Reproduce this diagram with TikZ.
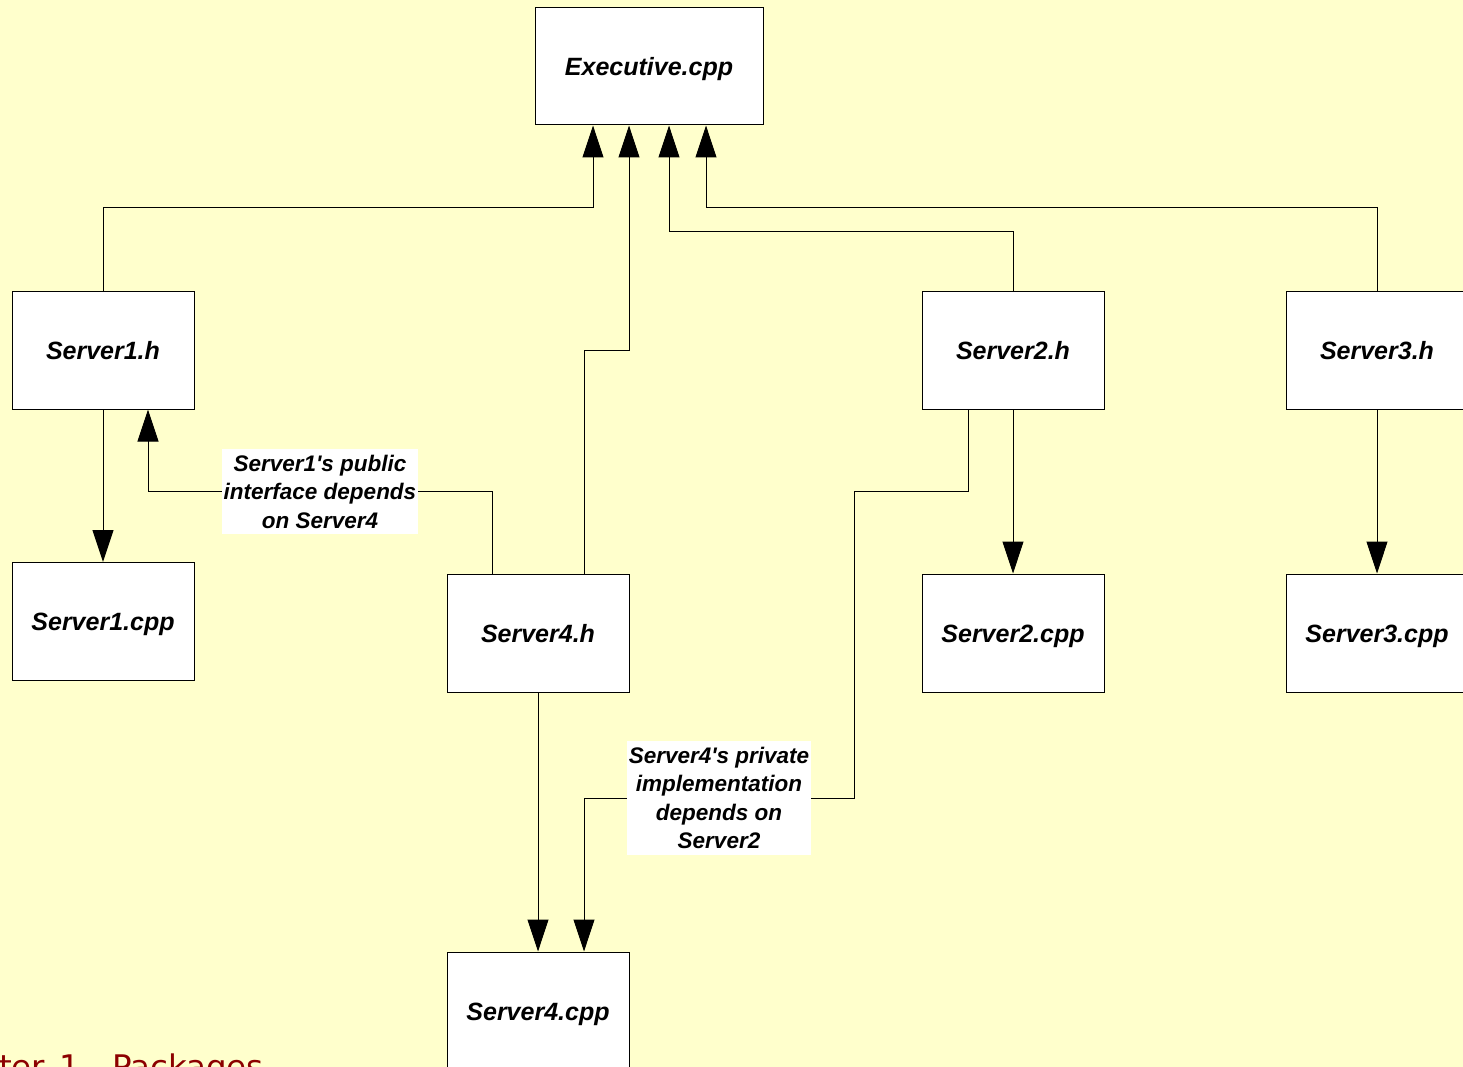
\documentclass[tikz,border=0pt]{standalone}
\usepackage{fontspec}
\setmainfont{Liberation Sans}[Ligatures=TeXOff]
\newfontfamily\titlefont{DejaVu Sans}
\usetikzlibrary{arrows.meta,calc}

\definecolor{paper}{HTML}{FFFFCC}
\definecolor{titlered}{RGB}{140,0,0}

\tikzset{
  filebox/.style={draw=black, line width=1pt, fill=white, minimum width=182pt,
    minimum height=118pt, inner sep=0pt, text height=18pt, text depth=0pt,
    font=\fontsize{25}{30}\selectfont\bfseries\itshape},
  arr/.style={line width=1pt, -{Triangle[length=32pt,width=21pt]}},
  note/.style={fill=white, inner sep=1.5pt, align=center,
    font=\fontsize{22.5}{28.5}\selectfont\bfseries\itshape},
  chaptertext/.style={text=titlered, inner sep=0pt, anchor=base west,
    font=\titlefont\fontsize{32.5}{38}\selectfont}
}

\begin{document}
\begin{tikzpicture}[x=1pt, y=-1pt]
  % page frame and background
  \useasboundingbox (0,0) rectangle (1463,1067);
  \clip (0,0) rectangle (1463,1067);
  \fill[paper] (0,0) rectangle (1463,1067);

  % source files
  \node[filebox, minimum width=228pt, minimum height=117pt] (E) at (649,66.5) {Executive.cpp};
  \node[filebox] (S1h) at (103,350)   {Server1.h};
  \node[filebox] (S1c) at (103,621.5) {Server1.cpp};
  \node[filebox] (S4h) at (538,633)   {Server4.h};
  \node[filebox] (S4c) at (538,1011)  {Server4.cpp};
  \node[filebox] (S2h) at (1013,350)  {Server2.h};
  \node[filebox] (S2c) at (1013,633)  {Server2.cpp};
  \node[filebox] (S3h) at (1377,350)  {Server3.h};
  \node[filebox] (S3c) at (1377,633)  {Server3.cpp};

  % attachment points on box edges
  \coordinate (E1) at ($(E.south)+(-56,0)$);
  \coordinate (E2) at ($(E.south)+(-20,0)$);
  \coordinate (E3) at ($(E.south)+(20,0)$);
  \coordinate (E4) at ($(E.south)+(57,0)$);
  \coordinate (S4hL) at ($(S4h.north)+(-46,0)$);
  \coordinate (S4hR) at ($(S4h.north)+(46,0)$);
  \coordinate (S1hR) at ($(S1h.south)+(45,0)$);
  \coordinate (S2hL) at ($(S2h.south)+(-45,0)$);
  \coordinate (S4cR) at ($(S4c.north)+(46,0)$);

  % dependencies on the executive
  \draw[arr] (S1h.north) |- (593,208) -- (E1);
  \draw[arr] (S4hR) |- (629,350) -- (E2);
  \draw[arr] (S2h.north) |- (669,232) -- (E3);
  \draw[arr] (S3h.north) |- (706,208) -- (E4);

  % headers to implementations
  \draw[arr] (S1h) -- (S1c);
  \draw[arr] (S4h) -- (S4c);
  \draw[arr] (S2h) -- (S2c);
  \draw[arr] (S3h) -- (S3c);

  % cross dependencies
  \draw[arr] (S4hL) |- (148,491) -- (S1hR);
  \draw[arr] (S2hL) |- (854,491) -- (854,798) -| (S4cR);

  \node[note, minimum width=195pt, minimum height=85pt] (N1) at (320,491.5)
    {Server1's public\\interface depends\\on Server4};
  \node[note, minimum width=183pt, minimum height=114pt] (N2) at (719,798)
    {Server4's private\\implementation\\depends on\\Server2};

  % slide footer
  \node[chaptertext] (ch) at (-1,1078) {ter\hspace{4pt} 1};
  \node[chaptertext] (pk) at (112,1078) {Packages};
\end{tikzpicture}
\end{document}
